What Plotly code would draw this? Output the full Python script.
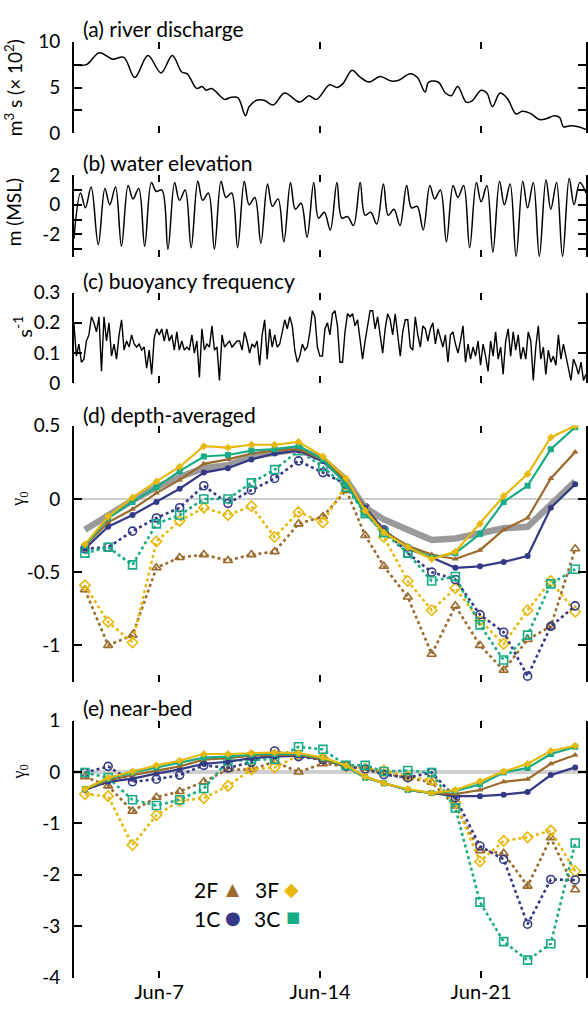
import numpy as np
import plotly.graph_objects as go

W, H = 588, 1017

# ---------------- data ----------------
# (a) river discharge (x 10^2 m^3 s^-1), day of June
q_day = [3.29, 3.83, 4.40, 4.97, 5.46, 5.94, 6.51, 7.08, 7.57, 7.98, 8.22, 8.63, 8.87, 9.04,
         9.28, 9.85, 10.09, 10.42, 10.75, 10.91, 11.23, 11.56, 11.97, 12.45, 13.11, 13.51,
         13.84, 14.41, 14.73, 14.98, 15.39, 15.71, 16.12, 16.61, 17.09, 17.42, 17.91, 18.23,
         18.56, 18.72, 19.13, 19.45, 19.70, 19.98, 20.35, 20.59, 21.00, 21.25, 21.49, 21.82,
         22.14, 22.52, 22.79, 23.12, 23.53, 23.85, 24.18, 24.42, 24.58, 24.83, 25.23, 25.56]
q_val = [7.5, 7.5, 8.8, 8.1, 8.3, 6.1, 8.5, 6.6, 8.5, 6.7, 6.5, 4.9, 5.1, 4.7,
         4.9, 3.7, 3.9, 3.9, 1.9, 2.9, 3.6, 3.6, 3.1, 4.4, 3.4, 4.1,
         3.7, 5.3, 5.0, 5.4, 6.9, 6.2, 5.6, 6.2, 5.7, 5.8, 6.5, 6.1,
         4.5, 5.6, 5.6, 4.4, 4.1, 5.1, 3.4, 3.5, 4.7, 4.4, 2.9, 4.4,
         3.8, 2.1, 2.4, 2.2, 1.5, 1.6, 1.9, 1.7, 0.7, 0.8, 0.7, 0.4]

# (b) water elevation (m, MSL): turning points of the tide
eta_day = [3.29, 3.58, 3.79, 4.04,
           4.35, 4.64, 4.85, 5.10, 5.36, 5.65, 5.86, 6.11, 6.37, 6.66, 6.87, 7.12,
           7.38, 7.67, 7.88, 8.13, 8.39, 8.68, 8.89, 9.14, 9.40, 9.69, 9.90, 10.15,
           10.41, 10.70, 10.91, 11.16, 11.42, 11.71, 11.92, 12.17, 12.42, 12.71, 12.92, 13.17,
           13.43, 13.72, 13.93, 14.18, 14.44, 14.73, 14.94, 15.19, 15.45, 15.74, 15.95, 16.20,
           16.46, 16.75, 16.96, 17.21, 17.47, 17.76, 17.97, 18.22, 18.48, 18.77, 18.98, 19.23,
           19.49, 19.78, 19.99, 20.24, 20.50, 20.79, 21.00, 21.25, 21.51, 21.80, 22.01, 22.26,
           22.52, 22.81, 23.02, 23.27, 23.53, 23.82, 24.03, 24.28, 24.54, 24.83, 25.04, 25.29,
           25.56]
eta_val = [-2.3, 0.8, -0.2, 1.2,
           -2.7, 1.1, 0.0, 1.2, -2.8, 1.3, 0.4, 1.1, -2.8, 1.5, 0.9, 1.0,
           -3.0, 1.5, 0.3, 1.0, -2.9, 1.6, 0.3, 0.8, -3.0, 1.6, 0.5, 0.8,
           -2.9, 1.6, 0.0, 0.5, -2.6, 1.4, -0.1, 0.4, -2.5, 1.5, -0.3, 0.1,
           -2.2, 1.5, -0.9, -0.5, -1.7, 1.5, -0.9, -0.8, -1.4, 1.5, -0.7, -0.5,
           -1.3, 1.4, -0.7, -0.3, -1.4, 1.3, -0.2, -0.1, -1.7, 1.3, 0.4, 1.0,
           -2.5, 1.3, 0.5, 1.3, -2.9, 1.5, 0.2, 1.3, -3.2, 1.6, 0.0, 1.4,
           -3.5, 1.6, -0.2, 1.5, -3.5, 1.7, -0.3, 1.5, -3.5, 1.8, 0.0, 1.5,
           0.8]

# (c) buoyancy frequency (s^-1), regular sampling from n_start to n_end
n_start, n_end = 3.29, 25.56
n_val = [0.2, 0.09, 0.13, 0.07, 0.08, 0.14, 0.16, 0.22, 0.2, 0.17, 0.22, 0.04, 0.22, 0.14,
         0.2, 0.09, 0.13, 0.08, 0.16, 0.21, 0.11, 0.14, 0.12, 0.16, 0.13, 0.12, 0.13, 0.11,
         0.12, 0.05, 0.11, 0.03, 0.15, 0.18, 0.16, 0.18, 0.14, 0.18, 0.14, 0.16, 0.11, 0.17,
         0.11, 0.14, 0.11, 0.12, 0.11, 0.16, 0.1, 0.14, 0.02, 0.18, 0.11, 0.13, 0.12, 0.19,
         0.11, 0.12, 0.01, 0.16, 0.12, 0.13, 0.14, 0.12, 0.13, 0.14, 0.14, 0.11, 0.17, 0.14,
         0.1, 0.13, 0.12, 0.14, 0.06, 0.16, 0.21, 0.08, 0.18, 0.12, 0.16, 0.12, 0.13, 0.17,
         0.21, 0.18, 0.22, 0.19, 0.11, 0.07, 0.09, 0.13, 0.11, 0.12, 0.17, 0.24, 0.22, 0.12,
         0.09, 0.09, 0.18, 0.2, 0.16, 0.23, 0.24, 0.19, 0.07, 0.07, 0.17, 0.23, 0.22, 0.23,
         0.19, 0.21, 0.14, 0.08, 0.14, 0.19, 0.24, 0.24, 0.18, 0.22, 0.15, 0.1, 0.18, 0.23,
         0.21, 0.16, 0.23, 0.16, 0.09, 0.17, 0.21, 0.21, 0.12, 0.11, 0.22, 0.16, 0.12, 0.19,
         0.18, 0.14, 0.18, 0.2, 0.13, 0.18, 0.15, 0.12, 0.16, 0.07, 0.16, 0.17, 0.13, 0.1,
         0.14, 0.19, 0.07, 0.13, 0.08, 0.12, 0.09, 0.14, 0.06, 0.13, 0.09, 0.04, 0.14, 0.09,
         0.17, 0.08, 0.12, 0.03, 0.14, 0.18, 0.09, 0.17, 0.11, 0.16, 0.08, 0.12, 0.08, 0.17,
         0.14, 0.01, 0.12, 0.19, 0.08, 0.12, 0.03, 0.11, 0.07, 0.09, 0.06, 0.16, 0.08, 0.13,
         0.09, 0.05, 0.01, 0.08, 0.06, 0.03, 0.07, 0.01, 0.03]

# gamma_0 estimates, one per survey day
g_day = [3.77, 4.78, 5.84, 6.88, 7.89, 8.94, 9.99, 11.01, 12.02, 13.06, 14.12,
         15.13, 15.96, 16.77, 17.81, 18.85, 19.88, 20.95, 21.98, 23.02, 24.03, 25.09]

# (d) depth-averaged, method A (solid) and method B (dotted)
da_ref = [-0.21, -0.11, -0.01, 0.08, 0.15, 0.21, 0.23, 0.29, 0.32, 0.34, 0.27,
          0.13, -0.06, -0.14, -0.21, -0.28, -0.27, -0.24, -0.20, -0.19, -0.04, 0.12]
da_1C_A = [-0.34, -0.19, -0.11, -0.02, 0.07, 0.18, 0.21, 0.27, 0.31, 0.33, 0.26,
           0.12, -0.06, -0.21, -0.34, -0.40, -0.47, -0.46, -0.43, -0.39, -0.06, 0.10]
da_2F_A = [-0.32, -0.16, -0.07, 0.04, 0.13, 0.24, 0.27, 0.31, 0.33, 0.34, 0.27,
           0.13, -0.07, -0.22, -0.32, -0.38, -0.41, -0.35, -0.21, -0.13, 0.14, 0.32]
da_3C_A = [-0.32, -0.13, -0.02, 0.08, 0.19, 0.29, 0.30, 0.33, 0.34, 0.36, 0.27,
           0.10, -0.10, -0.23, -0.33, -0.40, -0.37, -0.24, -0.02, 0.09, 0.34, 0.49]
da_3F_A = [-0.31, -0.12, 0.01, 0.12, 0.22, 0.36, 0.35, 0.37, 0.37, 0.39, 0.29,
           0.14, -0.08, -0.23, -0.33, -0.41, -0.36, -0.17, 0.02, 0.17, 0.42, 0.50]
da_1C_B = [-0.34, -0.33, -0.22, -0.13, -0.06, 0.09, -0.03, 0.06, 0.14, 0.26, 0.18,
           0.10, -0.06, -0.21, -0.37, -0.50, -0.55, -0.79, -0.91, -1.21, -0.87, -0.73]
da_2F_B = [-0.62, -1.00, -0.93, -0.47, -0.40, -0.38, -0.42, -0.38, -0.36, -0.17, -0.12,
           0.06, -0.25, -0.46, -0.67, -1.06, -0.73, -1.00, -1.17, -0.96, -0.87, -0.34]
da_3C_B = [-0.37, -0.33, -0.45, -0.17, -0.11, 0.00, 0.00, 0.11, 0.20, 0.33, 0.22,
           0.08, -0.10, -0.23, -0.37, -0.56, -0.53, -0.86, -1.10, -0.93, -0.58, -0.48]
da_3F_B = [-0.59, -0.84, -0.98, -0.29, -0.15, -0.06, -0.11, -0.05, -0.26, -0.09, -0.16,
           0.10, -0.08, -0.26, -0.56, -0.76, -0.61, -0.83, -0.99, -0.76, -0.56, -0.77]

# (e) near-bed
nb_1C_A = [-0.35, -0.19, -0.13, -0.03, 0.05, 0.16, 0.20, 0.27, 0.30, 0.32, 0.24,
           0.11, -0.09, -0.22, -0.35, -0.41, -0.47, -0.47, -0.44, -0.39, -0.06, 0.09]
nb_2F_A = [-0.33, -0.16, -0.06, 0.03, 0.11, 0.24, 0.27, 0.32, 0.33, 0.34, 0.24,
           0.11, -0.11, -0.22, -0.35, -0.41, -0.43, -0.35, -0.19, -0.14, 0.16, 0.33]
nb_3C_A = [-0.33, -0.13, -0.01, 0.09, 0.19, 0.28, 0.30, 0.34, 0.35, 0.35, 0.27,
           0.11, -0.11, -0.22, -0.35, -0.41, -0.37, -0.24, -0.01, 0.08, 0.35, 0.49]
nb_3F_A = [-0.33, -0.11, 0.01, 0.13, 0.22, 0.35, 0.35, 0.37, 0.38, 0.37, 0.28,
           0.13, -0.09, -0.22, -0.33, -0.41, -0.35, -0.18, 0.01, 0.16, 0.41, 0.51]
nb_1C_B = [-0.01, 0.11, -0.19, -0.14, -0.06, 0.13, 0.08, 0.19, 0.41, 0.30, 0.24,
           0.11, 0.06, -0.05, -0.11, -0.01, -0.50, -1.44, -1.70, -2.96, -2.09, -2.10]
nb_2F_B = [-0.09, -0.27, -0.76, -0.49, -0.38, -0.19, 0.05, 0.05, 0.20, 0.00, 0.16,
           0.11, 0.08, -0.03, -0.11, -0.20, -0.66, -1.53, -1.58, -2.22, -1.28, -2.29]
nb_3C_B = [-0.01, -0.11, -0.54, -0.65, -0.54, -0.32, 0.22, 0.24, 0.25, 0.49, 0.44,
           0.13, 0.13, 0.01, 0.03, -0.01, -0.70, -2.53, -3.30, -3.66, -3.34, -1.38]
nb_3F_B = [-0.43, -0.47, -1.42, -0.84, -0.56, -0.51, -0.27, 0.05, 0.09, 0.32, 0.27,
           0.11, 0.06, 0.03, -0.09, -0.16, -0.60, -1.74, -1.34, -1.27, -1.14, -1.93]

x_ticks = [7, 14, 21]
x_ticktext = ["Jun-7", "Jun-14", "Jun-21"]
x_range = [3.29, 25.56]

# ---------------- styling ----------------
C_2F = "#9B6A2C"
C_3F = "#E8B80C"
C_1C = "#343A85"
C_3C = "#19AB86"
C_REF = "#9A9A9A"
FONT = "Lato"

# panel frames in pixels: (top, bottom)
frames = {
    1: (30.5, 124.0),
    2: (167.0, 251.0),
    3: (287.0, 380.0),
    4: (423.3, 685.5),
    5: (725.0, 988.0),
}
x_dom = [74 / W, 587 / W]

fig = go.Figure()


def ax_name(i, kind):
    return kind if i == 1 else f"{kind}{i}"


def line(i, x, y, color="black", width=1.5, shape="linear"):
    fig.add_trace(go.Scatter(
        x=x, y=y, mode="lines", xaxis=ax_name(i, "x"), yaxis=ax_name(i, "y"),
        line=dict(color=color, width=width, shape=shape, smoothing=1.0),
        showlegend=False, hoverinfo="skip"))


def series(i, y, color, symbol, method_b):
    if method_b:
        fig.add_trace(go.Scatter(
            x=g_day, y=y, mode="lines+markers",
            xaxis=ax_name(i, "x"), yaxis=ax_name(i, "y"),
            line=dict(color=color, width=2.6, dash="dot"),
            marker=dict(symbol=symbol + "-open", size=8, color=color,
                        line=dict(color=color, width=1.6)),
            showlegend=False, hoverinfo="skip"))
    else:
        fig.add_trace(go.Scatter(
            x=g_day, y=y, mode="lines+markers",
            xaxis=ax_name(i, "x"), yaxis=ax_name(i, "y"),
            line=dict(color=color, width=2.2),
            marker=dict(symbol=symbol, size=6, color=color),
            showlegend=False, hoverinfo="skip"))


# (a)-(c) time series
line(1, q_day, q_val, shape="spline")
line(2, eta_day, eta_val, shape="spline")
n_day = np.linspace(n_start, n_end, len(n_val))
line(3, n_day, n_val, width=1.4)

# (d) depth-averaged
for y, c, s in [(da_2F_B, C_2F, "triangle-up"), (da_3F_B, C_3F, "diamond"),
                (da_1C_B, C_1C, "circle"), (da_3C_B, C_3C, "square")]:
    series(4, y, c, s, True)
line(4, g_day, da_ref, color=C_REF, width=6.5)
for y, c, s in [(da_1C_A, C_1C, "circle"), (da_2F_A, C_2F, "triangle-up"),
                (da_3C_A, C_3C, "square"), (da_3F_A, C_3F, "diamond")]:
    series(4, y, c, s, False)

# (e) near-bed
for y, c, s in [(nb_2F_B, C_2F, "triangle-up"), (nb_3F_B, C_3F, "diamond"),
                (nb_1C_B, C_1C, "circle"), (nb_3C_B, C_3C, "square")]:
    series(5, y, c, s, True)
for y, c, s in [(nb_1C_A, C_1C, "circle"), (nb_2F_A, C_2F, "triangle-up"),
                (nb_3C_A, C_3C, "square"), (nb_3F_A, C_3F, "diamond")]:
    series(5, y, c, s, False)

# ---------------- axes ----------------
y_specs = {
    1: dict(range=[0, 10], tickvals=[0, 5, 10], ticktext=["0", "5", "10"], minor=2.5),
    2: dict(range=[-3.55, 2], tickvals=[-2, 0, 2], ticktext=["-2", "0", "2"], minor=1),
    3: dict(range=[0, 0.3], tickvals=[0, 0.1, 0.2, 0.3], ticktext=["0", "0.1", "0.2", "0.3"], minor=None),
    4: dict(range=[-1.25, 0.5], tickvals=[-1, -0.5, 0, 0.5], ticktext=["-1", "-0.5", "0", "0.5"], minor=None),
    5: dict(range=[-4, 1], tickvals=[-4, -3, -2, -1, 0, 1],
            ticktext=["-4", "-3", "-2", "-1", "0", "1"], minor=None),
}

layout = dict(
    width=W, height=H, margin=dict(l=0, r=0, t=0, b=0),
    paper_bgcolor="white", plot_bgcolor="white",
    font=dict(family=FONT, size=18, color="black"),
    showlegend=False,
)

for i in range(1, 6):
    top, bot = frames[i]
    xa = dict(
        domain=x_dom, range=x_range, anchor=ax_name(i, "y"),
        showline=False, showgrid=False, zeroline=False,
        tickmode="array", tickvals=x_ticks, ticktext=x_ticktext,
        ticks="inside", ticklen=7, tickwidth=1.5, tickcolor="black", mirror="ticks",
        showticklabels=(i == 5), tickfont=dict(family=FONT, size=20),
    )
    spec = y_specs[i]
    ya = dict(
        domain=[1 - bot / H, 1 - top / H], range=spec["range"], anchor=ax_name(i, "x"),
        showline=True, linecolor="black", linewidth=1.6, mirror="ticks",
        showgrid=False,
        tickmode="array", tickvals=spec["tickvals"], ticktext=spec["ticktext"],
        ticks="inside", ticklen=8, tickwidth=1.5, tickcolor="black",
        ticklabelstandoff=8, tickfont=dict(family=FONT, size=19),
        zeroline=i in (4, 5), zerolinecolor="#cfcfcf",
        zerolinewidth=1.5 if i == 4 else 3.5,
    )
    if spec["minor"]:
        ya["minor"] = dict(dtick=spec["minor"], tick0=0, ticks="inside", ticklen=8,
                           tickwidth=1.5, tickcolor="black")
    layout[ax_name(i, "xaxis")] = xa
    layout[ax_name(i, "yaxis")] = ya

fig.update_layout(**layout)

# ---------------- text ----------------
def ann(text, xpx, ypx, size=18, family=FONT, color="black", angle=0, xanchor="center"):
    fig.add_annotation(text=text, x=xpx / W, y=1 - ypx / H, xref="paper", yref="paper",
                       showarrow=False, xanchor=xanchor, yanchor="middle", textangle=angle,
                       font=dict(size=size, family=family, color=color))


for label, ypx in [("(a) river discharge", 17), ("(b) water elevation", 154),
                   ("(c) buoyancy frequency", 275), ("(d) depth-averaged", 412),
                   ("(e) near-bed", 712)]:
    ann(label, 81, ypx, size=21, xanchor="left")

ann("m<sup>3</sup> s (× 10<sup>2</sup>)", 13, 77, size=19, angle=-90)
ann("m (MSL)", 13, 205, size=19, angle=-90)
ann("s<sup>-1</sup>", 22, 322, size=20, angle=-90)
ann("γ<sub>0</sub>", 20, 498, size=18, family="Liberation Serif", angle=-90)
ann("γ<sub>0</sub>", 20, 777, size=18, family="Liberation Serif", angle=-90)

# key
ann("2F", 206, 898, size=21)
ann("▲", 233, 897, size=17, family="DejaVu Sans", color=C_2F)
ann("3F", 267, 898, size=21)
ann("◆", 292, 897, size=19, family="DejaVu Sans", color=C_3F)
ann("1C", 207, 927, size=21)
ann("●", 233, 926, size=18, family="DejaVu Sans", color=C_1C)
ann("3C", 267, 927, size=21)
ann("■", 293, 926, size=15, family="DejaVu Sans", color=C_3C)

fig.write_html("out.html")
